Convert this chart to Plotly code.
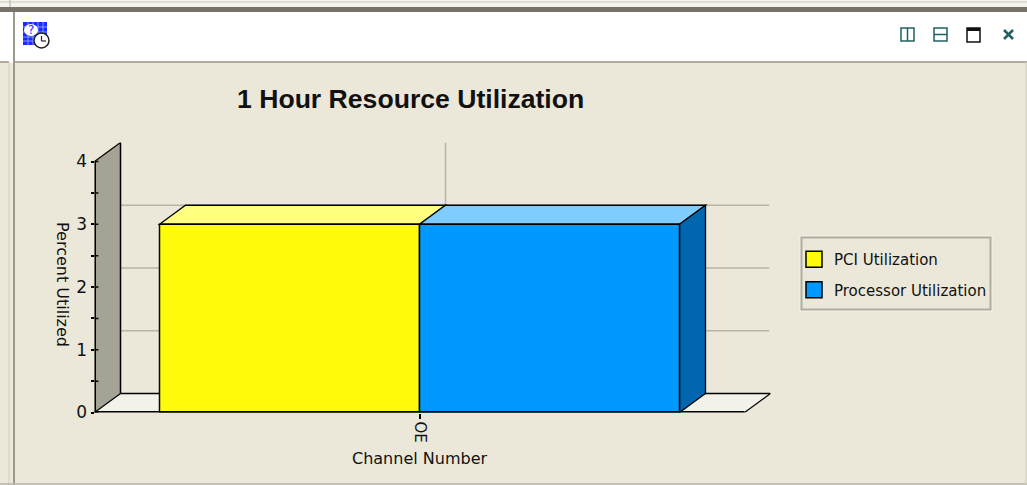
import plotly.graph_objects as go

# ---- data ----
categories = ["OE"]
series_names = ["PCI Utilization", "Processor Utilization"]
pci_values = [3]
processor_values = [3]
y_ticks = [0, 1, 2, 3, 4]
y_minor_ticks = [0.5, 1.5, 2.5, 3.5]
title_text = "1 Hour Resource Utilization"
x_title = "Channel Number"
y_title = "Percent Utilized"

# ---- style ----
W, H = 1027, 485
PANEL = "#ebe8d9"
YELLOW, YELLOW_TOP = "#fffb0a", "#ffff80"
BLUE, BLUE_TOP, BLUE_SIDE = "#0099ff", "#80ccff", "#0066b0"
WALL = "#a5a296"
FLOOR = "#f3f2ea"
GRID = "#b7b4a6"
TEAL = "#1f6161"
FONT = "DejaVu Sans"
DX, DY = 0.04, 0.303            # oblique depth, in axis units
X_RANGE = [-0.5, 0.5 + DX]
Y_RANGE = [0, 4 + DY]
PL, PR, PT, PB = 94.5, 770.5, 142.5, 412.5


def px(x):
    return x / W


def py(y):
    return 1 - y / H


def rect(x0, y0, x1, y1, fill, line=None, lw=0):
    return dict(type="rect", xref="paper", yref="paper", x0=px(x0), x1=px(x1), y0=py(y0), y1=py(y1),
                fillcolor=fill, line=dict(color=line or fill, width=lw), layer="below")


def seg(x0, y0, x1, y1, color, lw=1.0):
    return dict(type="line", xref="paper", yref="paper", x0=px(x0), x1=px(x1), y0=py(y0), y1=py(y1),
                line=dict(color=color, width=lw), layer="below")


def poly(points, fill=None, line=None, lw=1.5, layer="below"):
    d = "M " + " L ".join(f"{x} {y}" for x, y in points) + " Z"
    return dict(type="path", xref="x", yref="y", path=d, fillcolor=fill or "rgba(0,0,0,0)",
                line=dict(color=line or "rgba(0,0,0,0)", width=lw), layer=layer)


def dline(x0, y0, x1, y1, color="#000000", lw=1.5, layer="below"):
    return dict(type="line", xref="x", yref="y", x0=x0, x1=x1, y0=y0, y1=y1,
                line=dict(color=color, width=lw), layer=layer)


shapes = []
# window chrome
shapes += [
    rect(0, 0, W, 8, "#f4f3ec"),
    seg(0, 2, W, 2, "#c9c7b8", 1),
    rect(0, 7, W, 12, "#75736a"),
    rect(0, 12, W, 63, "#ffffff"),
    rect(15, 62, W, H, PANEL),
    rect(0, 62, 10, H, PANEL),
    seg(0, 62, 9, 62, "#b0ad9f", 2),
    seg(9, 62, 9, H, "#cfccbd", 1),
    seg(14, 12, 14, H, "#9c9a8c", 2),
    seg(15, 62, W, 62, "#b0ad9f", 2),
    seg(0, 484, W, 484, "#b9b6a8", 1.5),
    seg(10, 0, 10, 7, "#b0ad9f", 1),
    seg(1026, 62, 1026, H, "#cfccbd", 1),
]
# header icon
shapes += [rect(23, 22, 47, 45, "#1a2bff")]
for gy in (27, 32, 37, 41):
    shapes.append(seg(23, gy, 47, gy, "#9fb4ff", 0.8))
for gx in (28, 33, 38, 43):
    shapes.append(seg(gx, 22, gx, 45, "#9fb4ff", 0.8))
shapes += [
    dict(type="circle", xref="paper", yref="paper", x0=px(24), x1=px(38), y0=py(36), y1=py(24),
         fillcolor="#ffffff", line=dict(width=0), layer="below"),
    dict(type="circle", xref="paper", yref="paper", x0=px(34), x1=px(49), y0=py(48), y1=py(33),
         fillcolor="#ffffff", line=dict(color="#222222", width=1.5), layer="below"),
    seg(41.5, 36, 41.5, 41, "#222222", 1.2),
    seg(41.5, 41, 46, 41, "#222222", 1.2),
]
# header buttons
shapes += [
    rect(901, 28, 914, 41, "rgba(0,0,0,0)", TEAL, 1.5), seg(907.5, 28, 907.5, 41, TEAL, 1.5),
    rect(934, 28, 947, 41, "rgba(0,0,0,0)", TEAL, 1.5), seg(934, 34.5, 947, 34.5, TEAL, 1.5),
    rect(967, 28, 980, 42, "rgba(0,0,0,0)", "#111111", 1.5), seg(967, 29.5, 980, 29.5, "#111111", 3),
    seg(1004, 30, 1013, 39, TEAL, 2.5), seg(1013, 30, 1004, 39, TEAL, 2.5),
]
# legend frame
shapes += [rect(800, 236, 992, 311, "rgba(0,0,0,0)", "#f6f5ee", 1),
           rect(801.5, 237.5, 990.5, 309.5, "rgba(0,0,0,0)", "#b0ad9f", 2)]

# 3-D floor, wall and back gridlines, all derived from the axes
x_left, x_right = -0.5, 0.5
y_top = y_ticks[-1]
shapes.append(poly([(x_left, 0), (x_right, 0), (x_right + DX, DY), (x_left + DX, DY)], fill=FLOOR))
shapes.append(dline(x_left + DX, DY, x_right + DX, DY))
shapes.append(dline(x_right, 0, x_right + DX, DY, lw=1.2))
for t in y_ticks[1:-1]:
    shapes.append(dline(x_left + DX, t + DY, x_right + DX - 0.002, t + DY, GRID, 1.5))
shapes.append(dline(0 + DX, DY, 0 + DX, y_top + DY, GRID, 1.5))
shapes.append(poly([(x_left, 0), (x_left + DX, DY), (x_left + DX, y_top + DY), (x_left, y_top)], fill=WALL))
shapes.append(dline(x_left + DX, DY, x_left + DX, y_top + DY))
shapes.append(dline(x_left, 0, x_left + DX, DY, lw=1.2))
shapes.append(dline(x_left, y_top, x_left + DX, y_top + DY, lw=1.2))
shapes.append(dline(x_left, 0, x_left, y_top, lw=3, layer="above"))
shapes.append(dline(x_left, 0, x_right, 0, lw=3, layer="above"))
for t in y_ticks + y_minor_ticks:
    shapes.append(dline(x_left, t, x_left + 0.006, t, lw=1.5, layer="above"))

# 3-D bar top and side faces (two grouped bars fill 1 - bargap of the band)
BARGAP = 0.2
bar_w = (1 - BARGAP) / 2
b0_l, b0_r = -bar_w, 0
b1_l, b1_r = 0, bar_w
v0, v1 = pci_values[0], processor_values[0]
shapes.append(poly([(b0_l, v0), (b0_r, v0), (b0_r + DX, v0 + DY), (b0_l + DX, v0 + DY)], fill=YELLOW_TOP, line="#000000", lw=1.3))
shapes.append(poly([(b1_l, v1), (b1_r, v1), (b1_r + DX, v1 + DY), (b1_l + DX, v1 + DY)], fill=BLUE_TOP, line="#000000", lw=1.3))
shapes.append(poly([(b1_r, 0), (b1_r + DX, DY), (b1_r + DX, v1 + DY), (b1_r, v1)], fill=BLUE_SIDE, line="#000000", lw=1.3))

fig = go.Figure()
fig.add_bar(x=categories, y=pci_values, name=series_names[0], showlegend=False,
            marker=dict(color=YELLOW, line=dict(color="#000000", width=1.5)))
fig.add_bar(x=categories, y=processor_values, name=series_names[1], showlegend=False,
            marker=dict(color=BLUE, line=dict(color="#000000", width=1.5)))
# legend keys at the reference's larger swatch size
for name, color in zip(series_names, (YELLOW, BLUE)):
    fig.add_scatter(x=categories, y=[None], name=name, mode="markers", legendgroup=name,
                    marker=dict(symbol="square", size=16, color=color, line=dict(color="#000000", width=1.5)))

fig.update_layout(
    width=W, height=H, autosize=False, margin=dict(l=0, r=0, t=0, b=0, pad=0),
    paper_bgcolor=PANEL, plot_bgcolor="rgba(0,0,0,0)",
    font=dict(family=FONT, size=14, color="#111111"),
    barmode="group", bargap=BARGAP, bargroupgap=0,
    shapes=shapes,
    xaxis=dict(domain=[px(PL), px(PR)], range=X_RANGE, type="category", automargin=False,
               showgrid=False, zeroline=False, showline=False,
               ticks="outside", ticklen=5, tickwidth=1.5, tickcolor="#000000",
               tickangle=90, tickfont=dict(family=FONT, size=15)),
    yaxis=dict(domain=[py(PB), py(PT)], range=Y_RANGE, automargin=False,
               showgrid=False, zeroline=False, showline=False,
               tickvals=y_ticks, ticks="outside", ticklen=3, tickwidth=1.5, tickcolor="#000000",
               tickfont=dict(family=FONT, size=17),
               minor=dict(tickvals=y_minor_ticks, ticks="outside", ticklen=3, tickwidth=1.5, tickcolor="#000000")),
    legend=dict(xref="paper", yref="paper", x=px(794), y=py(243), xanchor="left", yanchor="top",
                bgcolor="rgba(0,0,0,0)", borderwidth=0,
                font=dict(family=FONT, size=15), itemsizing="trace", itemwidth=30,
                tracegroupgap=8),
    annotations=[
        dict(text=f"<b>{title_text}</b>", xref="paper", yref="paper", x=px(410.5), y=py(99), showarrow=False,
             xanchor="center", yanchor="middle", font=dict(family="Liberation Sans", size=26.6, color="#111111")),
        dict(text=x_title, xref="paper", yref="paper", x=px(419), y=py(458), showarrow=False,
             xanchor="center", yanchor="middle", font=dict(family=FONT, size=16, color="#111111")),
        dict(text=y_title, xref="paper", yref="paper", x=px(63), y=py(284), showarrow=False, textangle=90,
             xanchor="center", yanchor="middle", font=dict(family=FONT, size=16, color="#111111")),
        dict(text="?", xref="paper", yref="paper", x=px(31), y=py(30), showarrow=False,
             xanchor="center", yanchor="middle", font=dict(family=FONT, size=12, color="#1a2bff")),
    ],
)
fig.write_html("out.html", config=dict(displayModeBar=False), post_script="document.body.style.margin='0';")
